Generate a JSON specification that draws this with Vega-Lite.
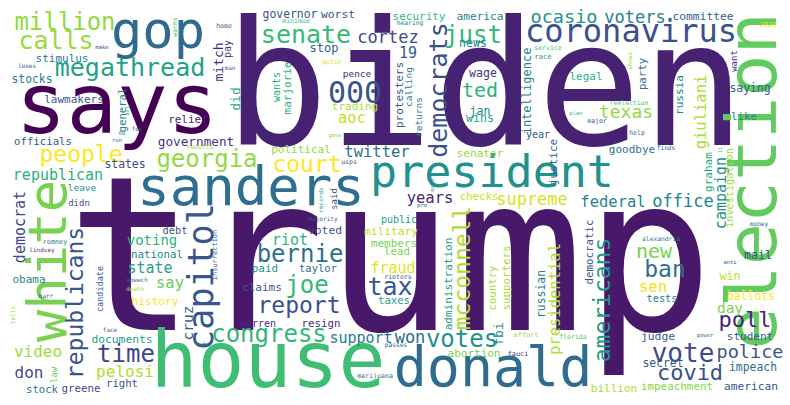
{
  "$schema": "https://vega.github.io/schema/vega-lite/v6.json",
  "description": "Word cloud of political news headline terms.",
  "width": 790,
  "height": 405,
  "autosize": {"type": "none"},
  "padding": 0,
  "background": "white",
  "view": {"stroke": null},
  "data": {
    "values": [
      {"w": "trump", "x": 390, "y": 265, "weight": 215, "dir": "h", "shade": 0.06},
      {"w": "biden", "x": 485, "y": 93, "weight": 173, "dir": "h", "shade": 0.09},
      {"w": "says", "x": 117, "y": 108, "weight": 84, "dir": "h", "shade": 0.0},
      {"w": "house", "x": 268, "y": 364, "weight": 78, "dir": "h", "shade": 0.69},
      {"w": "election", "x": 755, "y": 181, "weight": 70, "dir": "v", "shade": 0.76},
      {"w": "gop", "x": 158, "y": 32, "weight": 52, "dir": "h", "shade": 0.34},
      {"w": "white", "x": 50, "y": 261, "weight": 54, "dir": "v", "shade": 0.8},
      {"w": "sanders", "x": 251, "y": 189, "weight": 54, "dir": "h", "shade": 0.36},
      {"w": "donald", "x": 493, "y": 369, "weight": 55, "dir": "h", "shade": 0.35},
      {"w": "president", "x": 492, "y": 173, "weight": 45, "dir": "h", "shade": 0.5},
      {"w": "capitol", "x": 202, "y": 277, "weight": 35, "dir": "v", "shade": 0.27},
      {"w": "coronavirus", "x": 631, "y": 32, "weight": 32, "dir": "h", "shade": 0.24},
      {"w": "000", "x": 355, "y": 94, "weight": 30, "dir": "h", "shade": 0.25},
      {"w": "senate", "x": 306, "y": 34.5, "weight": 25, "dir": "h", "shade": 0.67},
      {"w": "just", "x": 473, "y": 36, "weight": 24, "dir": "h", "shade": 0.66},
      {"w": "megathread", "x": 130, "y": 67.5, "weight": 25, "dir": "h", "shade": 0.58},
      {"w": "million", "x": 65, "y": 23, "weight": 24, "dir": "h", "shade": 0.84},
      {"w": "calls", "x": 56, "y": 40.5, "weight": 25, "dir": "h", "shade": 0.85},
      {"w": "people", "x": 81, "y": 155, "weight": 23, "dir": "h", "shade": 1.0},
      {"w": "georgia", "x": 207, "y": 160, "weight": 24, "dir": "h", "shade": 0.84},
      {"w": "court", "x": 307, "y": 165, "weight": 23, "dir": "h", "shade": 1.0},
      {"w": "bernie", "x": 300, "y": 255, "weight": 24, "dir": "h", "shade": 0.36},
      {"w": "joe", "x": 307, "y": 286, "weight": 24, "dir": "h", "shade": 0.66},
      {"w": "report", "x": 299, "y": 306, "weight": 23, "dir": "h", "shade": 0.24},
      {"w": "congress", "x": 269, "y": 335, "weight": 24, "dir": "h", "shade": 0.66},
      {"w": "votes", "x": 462, "y": 340, "weight": 24, "dir": "h", "shade": 0.5},
      {"w": "tax", "x": 390, "y": 287, "weight": 25, "dir": "h", "shade": 0.27},
      {"w": "time", "x": 126, "y": 355, "weight": 24, "dir": "h", "shade": 0.2},
      {"w": "vote", "x": 683, "y": 354, "weight": 26, "dir": "h", "shade": 0.22},
      {"w": "covid", "x": 690, "y": 373, "weight": 22, "dir": "h", "shade": 0.24},
      {"w": "ban", "x": 665, "y": 270, "weight": 23, "dir": "h", "shade": 0.35},
      {"w": "poll", "x": 745, "y": 320, "weight": 22, "dir": "h", "shade": 0.1},
      {"w": "republicans", "x": 76, "y": 303, "weight": 23, "dir": "v", "shade": 0.26},
      {"w": "democrats", "x": 439, "y": 90, "weight": 25, "dir": "v", "shade": 0.24},
      {"w": "mcconnell", "x": 463, "y": 268, "weight": 23, "dir": "v", "shade": 0.88},
      {"w": "americans", "x": 603, "y": 300, "weight": 23, "dir": "v", "shade": 0.55},
      {"w": "new", "x": 654, "y": 252, "weight": 20, "dir": "h", "shade": 0.8},
      {"w": "ted", "x": 480, "y": 91, "weight": 20, "dir": "h", "shade": 0.64},
      {"w": "ocasio", "x": 564, "y": 17, "weight": 18.5, "dir": "h", "shade": 0.5},
      {"w": "voters", "x": 635, "y": 18, "weight": 17, "dir": "h", "shade": 0.42},
      {"w": "cortez", "x": 388, "y": 38, "weight": 17, "dir": "h", "shade": 0.22},
      {"w": "texas", "x": 626, "y": 112.5, "weight": 18, "dir": "h", "shade": 0.84},
      {"w": "federal", "x": 613, "y": 202, "weight": 15.5, "dir": "h", "shade": 0.45},
      {"w": "office", "x": 683, "y": 202, "weight": 17, "dir": "h", "shade": 0.45},
      {"w": "supreme", "x": 532, "y": 200, "weight": 17, "dir": "h", "shade": 0.94},
      {"w": "years", "x": 430, "y": 198, "weight": 15.5, "dir": "h", "shade": 0.1},
      {"w": "twitter", "x": 377, "y": 152, "weight": 15.5, "dir": "h", "shade": 0.36},
      {"w": "fraud", "x": 393, "y": 268.5, "weight": 15, "dir": "h", "shade": 0.95},
      {"w": "riot", "x": 290, "y": 240.5, "weight": 15, "dir": "h", "shade": 0.64},
      {"w": "voting", "x": 152, "y": 241, "weight": 14, "dir": "h", "shade": 0.64},
      {"w": "state", "x": 150, "y": 268.5, "weight": 15, "dir": "h", "shade": 0.58},
      {"w": "republican", "x": 58, "y": 175.5, "weight": 15, "dir": "h", "shade": 0.64},
      {"w": "say", "x": 170, "y": 283, "weight": 15.5, "dir": "h", "shade": 0.77},
      {"w": "video", "x": 38, "y": 352, "weight": 16, "dir": "h", "shade": 0.86},
      {"w": "pelosi", "x": 125, "y": 372, "weight": 16, "dir": "h", "shade": 0.88},
      {"w": "don", "x": 29, "y": 373, "weight": 16, "dir": "h", "shade": 0.22},
      {"w": "support", "x": 361, "y": 338.5, "weight": 15, "dir": "h", "shade": 0.4},
      {"w": "won", "x": 410, "y": 338, "weight": 17, "dir": "h", "shade": 0.35},
      {"w": "aoc", "x": 352, "y": 118, "weight": 15.5, "dir": "h", "shade": 0.92},
      {"w": "19", "x": 408, "y": 53.5, "weight": 15, "dir": "h", "shade": 0.28},
      {"w": "sen", "x": 653, "y": 287, "weight": 15.5, "dir": "h", "shade": 0.97},
      {"w": "day", "x": 730, "y": 309, "weight": 14.5, "dir": "h", "shade": 0.8},
      {"w": "police", "x": 750, "y": 352, "weight": 18.5, "dir": "h", "shade": 0.26},
      {"w": "campaign", "x": 721.5, "y": 193, "weight": 15, "dir": "v", "shade": 0.48},
      {"w": "giuliani", "x": 701, "y": 112, "weight": 15.5, "dir": "v", "shade": 0.88},
      {"w": "presidential", "x": 555, "y": 299, "weight": 15.5, "dir": "v", "shade": 0.88},
      {"w": "cruz", "x": 188.5, "y": 323, "weight": 14.5, "dir": "v", "shade": 0.3},
      {"w": "stimulus", "x": 62, "y": 59, "weight": 11, "dir": "h", "shade": 0.4},
      {"w": "stocks", "x": 32, "y": 80, "weight": 11.4, "dir": "h", "shade": 0.42},
      {"w": "lawmakers", "x": 74, "y": 100, "weight": 11, "dir": "h", "shade": 0.27},
      {"w": "relief", "x": 188, "y": 120, "weight": 11, "dir": "h", "shade": 0.1},
      {"w": "officials", "x": 43, "y": 142, "weight": 10.7, "dir": "h", "shade": 0.27},
      {"w": "government", "x": 196, "y": 142, "weight": 12.7, "dir": "h", "shade": 0.15},
      {"w": "states", "x": 125, "y": 165, "weight": 11.4, "dir": "h", "shade": 0.22},
      {"w": "leave", "x": 82, "y": 188, "weight": 9.5, "dir": "h", "shade": 0.5},
      {"w": "didn", "x": 79, "y": 203, "weight": 9, "dir": "h", "shade": 0.25},
      {"w": "debt", "x": 175, "y": 231, "weight": 10.3, "dir": "h", "shade": 0.25},
      {"w": "national", "x": 157, "y": 255, "weight": 10.8, "dir": "h", "shade": 0.44},
      {"w": "paid", "x": 265, "y": 269, "weight": 11, "dir": "h", "shade": 0.5},
      {"w": "voted", "x": 325, "y": 231, "weight": 11.3, "dir": "h", "shade": 0.25},
      {"w": "taylor", "x": 318, "y": 269, "weight": 10.5, "dir": "h", "shade": 0.33},
      {"w": "claims", "x": 262, "y": 288, "weight": 11, "dir": "h", "shade": 0.27},
      {"w": "warren", "x": 258, "y": 324, "weight": 10, "dir": "h", "shade": 0.12},
      {"w": "resign", "x": 321, "y": 324, "weight": 10.8, "dir": "h", "shade": 0.12},
      {"w": "taxes", "x": 394, "y": 301, "weight": 10.6, "dir": "h", "shade": 0.55},
      {"w": "members", "x": 394, "y": 244, "weight": 11, "dir": "h", "shade": 0.8},
      {"w": "lead", "x": 397, "y": 252, "weight": 10.8, "dir": "h", "shade": 0.8},
      {"w": "military", "x": 391, "y": 232, "weight": 11.2, "dir": "h", "shade": 0.9},
      {"w": "public", "x": 399, "y": 220, "weight": 10, "dir": "h", "shade": 0.55},
      {"w": "checks", "x": 479, "y": 197, "weight": 10.8, "dir": "h", "shade": 0.92},
      {"w": "political", "x": 301, "y": 150, "weight": 11, "dir": "h", "shade": 0.85},
      {"w": "senator", "x": 480, "y": 154, "weight": 11.2, "dir": "h", "shade": 0.85},
      {"w": "abortion", "x": 474, "y": 354, "weight": 11, "dir": "h", "shade": 0.8},
      {"w": "tests", "x": 662, "y": 299, "weight": 10.3, "dir": "h", "shade": 0.42},
      {"w": "judge", "x": 658, "y": 337, "weight": 11.3, "dir": "h", "shade": 0.28},
      {"w": "secret", "x": 663, "y": 364, "weight": 11.4, "dir": "h", "shade": 0.28},
      {"w": "student", "x": 750, "y": 337, "weight": 11, "dir": "h", "shade": 0.28},
      {"w": "impeach", "x": 753, "y": 368, "weight": 11.4, "dir": "h", "shade": 0.35},
      {"w": "american", "x": 751, "y": 387, "weight": 11.2, "dir": "h", "shade": 0.26},
      {"w": "impeachment", "x": 677, "y": 387, "weight": 10.9, "dir": "h", "shade": 0.82},
      {"w": "billion", "x": 614, "y": 389, "weight": 11, "dir": "h", "shade": 0.88},
      {"w": "ballots", "x": 751, "y": 297, "weight": 11.4, "dir": "h", "shade": 1.0},
      {"w": "win", "x": 730, "y": 277, "weight": 11.6, "dir": "h", "shade": 0.9},
      {"w": "mail", "x": 758, "y": 256, "weight": 11.6, "dir": "h", "shade": 0.26},
      {"w": "goodbye", "x": 632, "y": 150, "weight": 11, "dir": "h", "shade": 0.37},
      {"w": "saying", "x": 750, "y": 89, "weight": 11.4, "dir": "h", "shade": 0.3},
      {"w": "like", "x": 744, "y": 117, "weight": 10.8, "dir": "h", "shade": 0.48},
      {"w": "legal", "x": 586, "y": 77, "weight": 11, "dir": "h", "shade": 0.64},
      {"w": "year", "x": 538, "y": 135, "weight": 10, "dir": "h", "shade": 0.26},
      {"w": "committee", "x": 703, "y": 17, "weight": 11.3, "dir": "h", "shade": 0.3},
      {"w": "governor", "x": 290, "y": 15, "weight": 11.4, "dir": "h", "shade": 0.25},
      {"w": "worst", "x": 338, "y": 15, "weight": 11.3, "dir": "h", "shade": 0.25},
      {"w": "security", "x": 419, "y": 17, "weight": 11, "dir": "h", "shade": 0.67},
      {"w": "america", "x": 480, "y": 17, "weight": 11.2, "dir": "h", "shade": 0.45},
      {"w": "news", "x": 473, "y": 44, "weight": 11.6, "dir": "h", "shade": 0.45},
      {"w": "stop", "x": 324, "y": 48, "weight": 12, "dir": "h", "shade": 0.28},
      {"w": "pence", "x": 357, "y": 74, "weight": 9.5, "dir": "h", "shade": 0.12},
      {"w": "trading", "x": 355, "y": 107, "weight": 11, "dir": "h", "shade": 0.88},
      {"w": "wage", "x": 483, "y": 74, "weight": 11.6, "dir": "h", "shade": 0.15},
      {"w": "jan", "x": 480, "y": 111.5, "weight": 11.6, "dir": "h", "shade": 0.45},
      {"w": "wins", "x": 480, "y": 118.5, "weight": 11.6, "dir": "h", "shade": 0.6},
      {"w": "obama", "x": 29, "y": 280, "weight": 11, "dir": "h", "shade": 0.45},
      {"w": "history", "x": 155, "y": 302, "weight": 11.2, "dir": "h", "shade": 1.0},
      {"w": "documents", "x": 122, "y": 340, "weight": 11.3, "dir": "h", "shade": 0.55},
      {"w": "stock", "x": 42, "y": 390, "weight": 10.6, "dir": "h", "shade": 0.4},
      {"w": "greene", "x": 81, "y": 389, "weight": 10.8, "dir": "h", "shade": 0.22},
      {"w": "right", "x": 122, "y": 384, "weight": 10.6, "dir": "h", "shade": 0.25},
      {"w": "mitch", "x": 219, "y": 62, "weight": 13, "dir": "v", "shade": 0.12},
      {"w": "pay", "x": 228, "y": 49, "weight": 10, "dir": "v", "shade": 0.15},
      {"w": "general", "x": 123, "y": 110, "weight": 10.5, "dir": "v", "shade": 0.42},
      {"w": "did", "x": 236, "y": 99, "weight": 13, "dir": "v", "shade": 0.62},
      {"w": "democrat", "x": 20.5, "y": 227, "weight": 15, "dir": "v", "shade": 0.2},
      {"w": "administration", "x": 449, "y": 284, "weight": 11, "dir": "v", "shade": 0.55},
      {"w": "country", "x": 493, "y": 288, "weight": 10.7, "dir": "v", "shade": 0.87},
      {"w": "supporters", "x": 507, "y": 278, "weight": 10.8, "dir": "v", "shade": 0.87},
      {"w": "fbi", "x": 499, "y": 334, "weight": 13, "dir": "v", "shade": 0.45},
      {"w": "russian", "x": 541.6, "y": 294, "weight": 11.4, "dir": "v", "shade": 0.4},
      {"w": "democratic", "x": 590, "y": 252, "weight": 10.8, "dir": "v", "shade": 0.26},
      {"w": "investigation", "x": 730, "y": 188, "weight": 10.2, "dir": "v", "shade": 0.87},
      {"w": "graham", "x": 709, "y": 172, "weight": 11, "dir": "v", "shade": 0.6},
      {"w": "russia", "x": 680, "y": 95, "weight": 11, "dir": "v", "shade": 0.44},
      {"w": "party", "x": 643, "y": 74, "weight": 10.7, "dir": "v", "shade": 0.35},
      {"w": "want", "x": 734, "y": 61, "weight": 9, "dir": "v", "shade": 0.15},
      {"w": "intelligence", "x": 527, "y": 91, "weight": 12, "dir": "v", "shade": 0.42},
      {"w": "justice", "x": 554, "y": 162, "weight": 11, "dir": "v", "shade": 0.3},
      {"w": "protesters", "x": 400, "y": 95, "weight": 11, "dir": "v", "shade": 0.28},
      {"w": "calling", "x": 409, "y": 87, "weight": 9.5, "dir": "v", "shade": 0.44},
      {"w": "returns", "x": 419, "y": 117, "weight": 9.5, "dir": "v", "shade": 0.42},
      {"w": "wants", "x": 277, "y": 87, "weight": 10, "dir": "v", "shade": 0.64},
      {"w": "marjorie", "x": 288, "y": 88, "weight": 11, "dir": "v", "shade": 0.64},
      {"w": "candidate", "x": 99.5, "y": 289, "weight": 8.5, "dir": "v", "shade": 0.3},
      {"w": "law", "x": 54, "y": 375, "weight": 9, "dir": "v", "shade": 0.77},
      {"w": "said", "x": 334, "y": 199, "weight": 9, "dir": "v", "shade": 0.25},
      {"w": "records", "x": 321, "y": 200, "weight": 6, "dir": "v", "shade": 0.55},
      {"w": "insurrection", "x": 215, "y": 255, "weight": 7, "dir": "v", "shade": 0.3},
      {"w": "loses", "x": 27, "y": 66, "weight": 6, "dir": "h", "shade": 0.25},
      {"w": "make", "x": 102, "y": 47, "weight": 5.6, "dir": "h", "shade": 0.25},
      {"w": "warns", "x": 175, "y": 27, "weight": 6.5, "dir": "v", "shade": 0.7},
      {"w": "home", "x": 224, "y": 26, "weight": 6.5, "dir": "h", "shade": 0.3},
      {"w": "man", "x": 230, "y": 68, "weight": 6, "dir": "h", "shade": 0.25},
      {"w": "doj", "x": 127, "y": 111, "weight": 5, "dir": "v", "shade": 0.65},
      {"w": "fox", "x": 137, "y": 129, "weight": 5.8, "dir": "h", "shade": 0.3},
      {"w": "run", "x": 117, "y": 140, "weight": 5.5, "dir": "h", "shade": 0.3},
      {"w": "60", "x": 122, "y": 133, "weight": 5.5, "dir": "h", "shade": 0.45},
      {"w": "results", "x": 200, "y": 147, "weight": 6.3, "dir": "h", "shade": 0.85},
      {"w": "romney", "x": 55, "y": 242, "weight": 6.8, "dir": "h", "shade": 0.4},
      {"w": "lindsey", "x": 42, "y": 250, "weight": 6, "dir": "h", "shade": 0.15},
      {"w": "majority", "x": 323, "y": 219, "weight": 6.1, "dir": "h", "shade": 0.28},
      {"w": "usps", "x": 349, "y": 162, "weight": 6.5, "dir": "h", "shade": 0.3},
      {"w": "oath", "x": 432, "y": 185, "weight": 5.5, "dir": "v", "shade": 0.4},
      {"w": "pro", "x": 422, "y": 205, "weight": 5.5, "dir": "h", "shade": 0.3},
      {"w": "rioters", "x": 398, "y": 277, "weight": 6.5, "dir": "h", "shade": 0.3},
      {"w": "passes", "x": 396, "y": 345, "weight": 6.3, "dir": "h", "shade": 0.35},
      {"w": "marijuana", "x": 375, "y": 376, "weight": 6.6, "dir": "h", "shade": 0.35},
      {"w": "effort", "x": 526, "y": 335, "weight": 6.8, "dir": "h", "shade": 0.85},
      {"w": "fauci", "x": 518, "y": 354, "weight": 6.8, "dir": "h", "shade": 0.15},
      {"w": "florida", "x": 573, "y": 337, "weight": 6.5, "dir": "h", "shade": 0.75},
      {"w": "power", "x": 705, "y": 335, "weight": 5.5, "dir": "h", "shade": 0.38},
      {"w": "anti", "x": 730, "y": 262, "weight": 5.5, "dir": "h", "shade": 0.3},
      {"w": "money", "x": 759, "y": 224, "weight": 6.2, "dir": "h", "shade": 0.35},
      {"w": "alexandria", "x": 661, "y": 239, "weight": 6.3, "dir": "h", "shade": 0.42},
      {"w": "11", "x": 720, "y": 150, "weight": 5, "dir": "v", "shade": 0.7},
      {"w": "finds", "x": 666, "y": 148, "weight": 6.2, "dir": "h", "shade": 0.35},
      {"w": "help", "x": 637, "y": 133, "weight": 6.5, "dir": "h", "shade": 0.35},
      {"w": "reelection", "x": 629, "y": 103, "weight": 6.4, "dir": "h", "shade": 0.7},
      {"w": "plan", "x": 576, "y": 113, "weight": 5.6, "dir": "h", "shade": 0.7},
      {"w": "major", "x": 597, "y": 121, "weight": 6.5, "dir": "h", "shade": 0.25},
      {"w": "shows", "x": 630, "y": 61, "weight": 6, "dir": "v", "shade": 0.85},
      {"w": "service", "x": 548, "y": 48, "weight": 6.5, "dir": "h", "shade": 0.7},
      {"w": "race", "x": 543, "y": 57, "weight": 7, "dir": "h", "shade": 0.5},
      {"w": "2020", "x": 768, "y": 25, "weight": 7, "dir": "h", "shade": 0.95},
      {"w": "minimum", "x": 296, "y": 21, "weight": 6.5, "dir": "h", "shade": 0.7},
      {"w": "hearing", "x": 410, "y": 23, "weight": 6.3, "dir": "h", "shade": 0.45},
      {"w": "putin", "x": 332, "y": 62, "weight": 6.5, "dir": "h", "shade": 0.95},
      {"w": "goes", "x": 335, "y": 135, "weight": 5.5, "dir": "h", "shade": 0.8},
      {"w": "speech", "x": 137, "y": 280, "weight": 6, "dir": "h", "shade": 0.35},
      {"w": "death", "x": 135, "y": 289, "weight": 6, "dir": "h", "shade": 0.85},
      {"w": "barr", "x": 46, "y": 296, "weight": 6, "dir": "h", "shade": 0.3},
      {"w": "tells", "x": 13, "y": 315, "weight": 6, "dir": "v", "shade": 0.85},
      {"w": "face", "x": 110, "y": 330, "weight": 6, "dir": "h", "shade": 0.3},
      {"w": "rudy", "x": 202, "y": 344, "weight": 5.5, "dir": "h", "shade": 0.4}
    ]
  },
  "mark": {"type": "text", "font": "DejaVu Sans Mono", "align": "center", "baseline": "middle"},
  "encoding": {
    "x": {"field": "x", "type": "quantitative", "scale": {"domain": [0, 790], "nice": false, "zero": false}, "axis": null},
    "y": {"field": "y", "type": "quantitative", "scale": {"domain": [0, 405], "reverse": true, "nice": false, "zero": false}, "axis": null},
    "size": {"field": "weight", "type": "quantitative", "scale": {"type": "linear", "domain": [0, 220], "range": [0, 220]}, "legend": null},
    "angle": {"field": "dir", "type": "nominal", "scale": {"domain": ["h", "v"], "range": [0, 270]}, "legend": null},
    "color": {"field": "shade", "type": "quantitative", "scale": {"scheme": "viridis", "domain": [0, 1]}, "legend": null},
    "text": {"field": "w"}
  }
}
